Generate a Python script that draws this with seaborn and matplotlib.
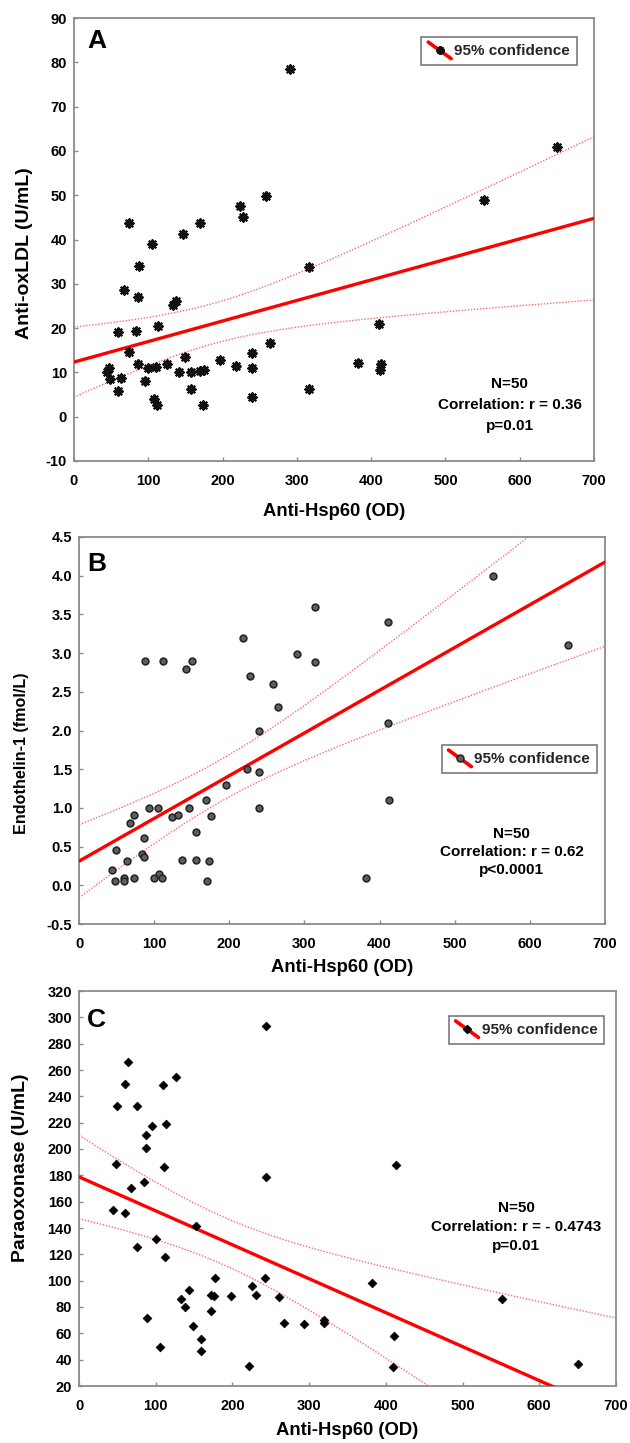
import numpy as np
import pandas as pd
import matplotlib
matplotlib.use("Agg")
import matplotlib.pyplot as plt
import seaborn as sns
from matplotlib import font_manager as fm
from matplotlib.lines import Line2D
from matplotlib.legend_handler import HandlerBase

# ---------------- data ----------------
hsp_a = [291, 259, 224, 228, 73.5, 169.5, 146.6, 105, 88, 316, 67.7, 86, 133, 137, 59, 84, 112.6,
         264, 73.5, 240, 150, 196, 86, 125, 382, 47, 44, 100, 110, 218, 240, 142, 157, 170, 175,
         48, 63, 95, 59, 157, 316, 240, 108, 112, 174, 650, 552, 411, 413, 412.5]
oxldl = [78.4, 49.9, 47.6, 45.0, 43.7, 43.8, 41.2, 39.0, 34.0, 33.8, 28.6, 27.1, 25.3, 26.1, 19.1,
         19.4, 20.5, 16.6, 14.5, 14.4, 13.5, 12.9, 12.0, 12.0, 12.2, 11.0, 10.0, 11.0, 11.2, 11.4,
         10.9, 10.2, 10.1, 10.3, 10.6, 8.4, 8.8, 8.1, 5.9, 6.2, 6.2, 4.5, 4.0, 2.7, 2.7, 60.9, 49.0,
         20.9, 12.0, 10.5]

hsp_b = [314.6, 217.7, 290, 314.6, 87.6, 112.4, 142.5, 150.4, 228, 258, 264.6, 240, 223.5, 240,
         195.6, 240, 169.5, 175.7, 93.8, 105.3, 73.5, 67.3, 124.3, 132.3, 146, 156.2, 86.7, 48.7,
         83.2, 86.7, 63.3, 43.8, 136.7, 155.8, 173, 59.7, 73.5, 100, 107, 111, 48.2, 59.7, 171,
         551.6, 411.6, 651, 410.7, 412.4, 381.8]
et1 = [3.60, 3.20, 2.99, 2.88, 2.90, 2.90, 2.80, 2.90, 2.70, 2.60, 2.30, 2.00, 1.50, 1.46, 1.30,
       1.00, 1.10, 0.90, 1.00, 1.00, 0.91, 0.81, 0.88, 0.91, 1.00, 0.69, 0.61, 0.46, 0.40, 0.36,
       0.31, 0.20, 0.33, 0.33, 0.31, 0.10, 0.10, 0.09, 0.15, 0.10, 0.05, 0.05, 0.05,
       3.99, 3.40, 3.10, 2.10, 1.10, 0.09]

hsp_c = [243.4, 64.5, 60, 109, 126, 49, 75, 94.7, 114, 87.7, 87.3, 48.2, 111.4, 243.4, 84.2, 67.5,
         44.3, 60, 152, 100.9, 112.7, 75, 177, 243, 225.9, 143, 171.9, 175.9, 198, 230.7, 261,
         133.3, 137.7, 171.5, 88.6, 266.7, 293.9, 318.9, 318.9, 148, 158.6, 105.7, 158.6, 221.5,
         413, 381.3, 551.5, 410.9, 409.6, 650.3]
pon = [293.7, 266, 249.5, 248.5, 255, 233, 233, 217.5, 218.7, 210.4, 200.8, 188.4, 186.7, 178.8,
       175, 170.5, 153.3, 151.6, 141.7, 131.9, 118, 125.6, 101.8, 101.8, 96, 93, 89.2, 88.2, 88.2,
       89.2, 87.7, 86.2, 80.1, 77.3, 71.5, 67.5, 67, 70, 67.5, 65.5, 55.6, 49.5, 46.5, 35.2,
       188.2, 98, 85.9, 58.1, 34.6, 36.7]

panel_letters = ["A", "B", "C"]
x_label = "Anti-Hsp60 (OD)"
y_labels = ["Anti-oxLDL (U/mL)", "Endothelin-1 (fmol/L)", "Paraoxonase (U/mL)"]
stats_text = ["N=50\nCorrelation: r = 0.36\np=0.01",
              "N=50\nCorrelation: r = 0.62\np<0.0001",
              "N=50\nCorrelation: r = - 0.4743\np=0.01"]
legend_label = "95% confidence"
x_ticks = [0, 100, 200, 300, 400, 500, 600, 700]
y_ticks = [list(range(-10, 91, 10)),
           [-0.5, 0.0, 0.5, 1.0, 1.5, 2.0, 2.5, 3.0, 3.5, 4.0, 4.5],
           list(range(20, 321, 20))]

# ---------------- style ----------------
sns.set_theme(style="white")
plt.rcParams["font.family"] = ["Liberation Sans", "DejaVu Sans"]
plt.rcParams["font.weight"] = "bold"
plt.rcParams["axes.unicode_minus"] = False
names = {f.name for f in fm.fontManager.ttflist}
if "Liberation Sans Narrow" in names:
    NARROW = ["Liberation Sans Narrow", "Liberation Sans"]
    ann_size = 13.0
    ls_scale = 11.0 / 13.0
else:
    NARROW = ["Liberation Sans", "DejaVu Sans"]
    ann_size = 11.0
    ls_scale = 1.0

SPINE = "#8a8a8a"
RED = "#ff0000"
CI_RED = "#ff6a6a"
T95 = 2.0106  # t quantile, df = 48


class DiagHandler(HandlerBase):
    def __init__(self, mkw):
        super().__init__()
        self.mkw = mkw

    def create_artists(self, legend, orig_handle, xdescent, ydescent, width, height,
                       fontsize, trans):
        x0, x1 = -xdescent, -xdescent + width
        y0, y1 = -ydescent + height * 1.2, -ydescent - height * 0.35
        ln = Line2D([x0, x1], [y0, y1], color=RED, lw=2.6, transform=trans)
        mk = Line2D([(x0 + x1) / 2], [(y0 + y1) / 2],
                    linestyle="none", transform=trans, **self.mkw)
        return [ln, mk]


fig = plt.figure(figsize=(6.3, 14.43), dpi=100)
W, H = 630.0, 1443.0


def add_ax(l, r, t, b):
    return fig.add_axes([l / W, 1 - b / H, (r - l) / W, (b - t) / H])


axes = [add_ax(74, 594, 18, 461), add_ax(79, 605, 537, 924), add_ax(79, 616, 991, 1386)]
datasets = [(hsp_a, oxldl), (hsp_b, et1), (hsp_c, pon)]
ylims = [(-10, 90), (-0.5, 4.5), (20, 320)]
marker_kw = [
    dict(marker=(8, 2, 0), s=34, color="#111111", linewidths=1.7),
    dict(marker="o", s=24, color="#5e5e5e", edgecolor="#222222", linewidths=1.1),
    dict(marker="D", s=20, color="black", edgecolor="black", linewidths=0.5),
]
legend_mk = [
    dict(marker=(8, 2, 0), markersize=6, color="#111111", markeredgewidth=1.7),
    dict(marker="o", markersize=5, markerfacecolor="#5e5e5e", markeredgecolor="#222222", markeredgewidth=1.1),
    dict(marker="D", markersize=4.5, markerfacecolor="black", markeredgecolor="black"),
]
ylabel_size = [14.0, 11.6, 14.0]
ylabel_x = [(33 - 74) / 520, (29 - 79) / 526, (29 - 79) / 537]
ylabel_y = [0.47, 0.44, 0.552]
xlabel_y = [-0.095, -0.0905, -0.091]
legend_anchor = [(0.967, 0.957), (0.985, 0.4625), (0.978, 0.937)]
text_pos = [(0.838, 0.126), (0.823, 0.186), (0.814, 0.4025)]
text_ls = [1.62, 1.40, 1.43]
letter_pos = [(0.026, 0.976), (0.016, 0.962), (0.014, 0.957)]

for i, ax in enumerate(axes):
    xv, yv = datasets[i]
    df = pd.DataFrame({"x": xv, "y": yv})
    ax.set_xlim(0, 700)
    ax.set_ylim(*ylims[i])

    # regression + mean confidence band from the data
    x = np.asarray(xv, float)
    y = np.asarray(yv, float)
    n = len(x)
    slope, intercept = np.polyfit(x, y, 1)
    resid = y - (intercept + slope * x)
    s = np.sqrt(np.sum(resid ** 2) / (n - 2))
    sxx = np.sum((x - x.mean()) ** 2)
    grid = np.linspace(0, 700, 300)
    fit = intercept + slope * grid
    hw = T95 * s * np.sqrt(1.0 / n + (grid - x.mean()) ** 2 / sxx)
    ax.plot(grid, fit + hw, ls=(0, (1, 1.2)), color=CI_RED, lw=1.0, zorder=2)
    ax.plot(grid, fit - hw, ls=(0, (1, 1.2)), color=CI_RED, lw=1.0, zorder=2)
    sns.lineplot(x=grid, y=fit, color=RED, lw=2.4, ax=ax, zorder=3)

    sns.scatterplot(data=df, x="x", y="y", ax=ax, zorder=4, legend=False, **marker_kw[i])

    ax.set_xticks(x_ticks)
    ax.set_yticks(y_ticks[i])
    if i == 1:
        ax.set_yticklabels([f"{v:.1f}" for v in y_ticks[i]])
    for sp in ax.spines.values():
        sp.set_color(SPINE)
        sp.set_linewidth(1.3)
    ax.tick_params(direction="in", length=3, width=1, color=SPINE,
                   labelsize=10.5, labelcolor="black", left=True, bottom=True)
    ax.tick_params(axis="x", pad=9.5)
    ax.tick_params(axis="y", pad=5)
    for lab in ax.get_xticklabels() + ax.get_yticklabels():
        lab.set_fontweight("bold")

    ax.set_xlabel(x_label, fontsize=13.3, fontweight="bold", color="black")
    ax.xaxis.set_label_coords(0.5, xlabel_y[i])
    ax.set_ylabel(y_labels[i], fontsize=ylabel_size[i], fontweight="bold", color="black")
    ax.yaxis.set_label_coords(ylabel_x[i], ylabel_y[i])

    ax.text(letter_pos[i][0], letter_pos[i][1], panel_letters[i], transform=ax.transAxes,
            fontsize=19, fontweight="bold", ha="left", va="top", color="black")
    ax.text(text_pos[i][0], text_pos[i][1], stats_text[i], transform=ax.transAxes,
            fontsize=ann_size, fontweight="bold", ha="center", va="center",
            linespacing=text_ls[i] * ls_scale, family=NARROW, color="black")

    handle = Line2D([], [], color=RED)
    leg = ax.legend([handle], [legend_label], loc="upper right",
                    bbox_to_anchor=legend_anchor[i], bbox_transform=ax.transAxes,
                    borderaxespad=0, handler_map={Line2D: DiagHandler(legend_mk[i])},
                    handlelength=1.5, handletextpad=0.2, borderpad=0.45,
                    fancybox=False, framealpha=1, edgecolor="#7a7a7a",
                    prop=dict(family=NARROW, size=ann_size, weight="bold"))
    leg.get_frame().set_linewidth(1.2)

fig.savefig("out.png", dpi=100)
